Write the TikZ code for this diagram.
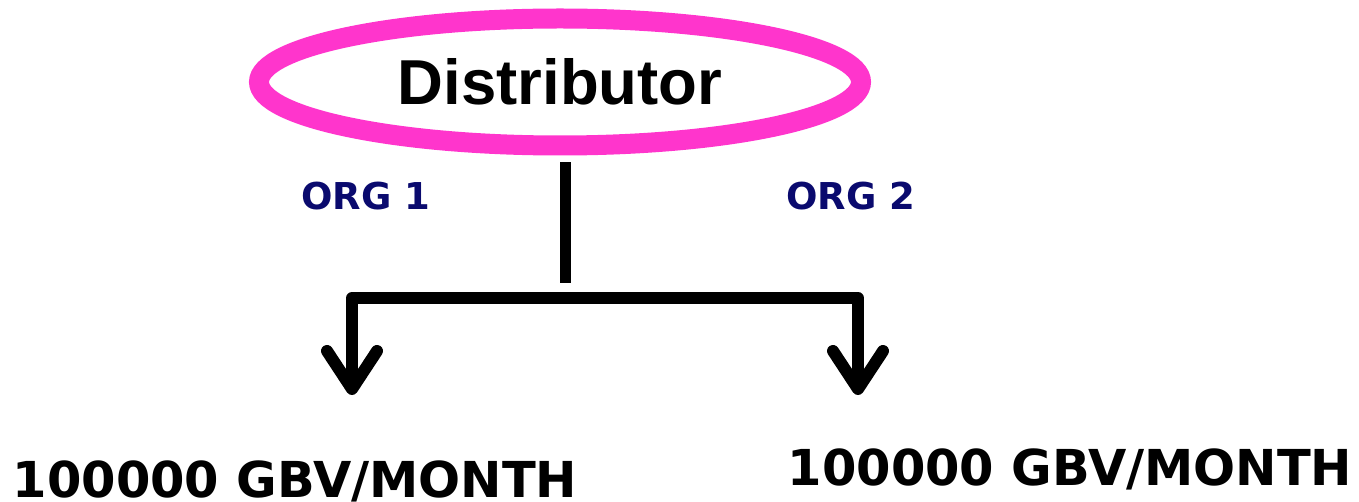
\documentclass[tikz,border=0pt]{standalone}
\usepackage{fontspec}
\setmainfont{DejaVu Sans}
\newfontfamily\headfont{Liberation Sans}
\usetikzlibrary{shapes.geometric,arrows.meta}
\definecolor{hubpink}{RGB}{255,53,204}
\definecolor{orgnavy}{RGB}{10,10,110}
\tikzset{
  x=1pt, y=-1pt,
  hub/.style={ellipse, draw=hubpink, line width=20pt, inner sep=0pt,
    minimum width=602pt, minimum height=127pt,
    font=\headfont\bfseries\fontsize{63.5}{70}\selectfont},
  orglabel/.style={text=orgnavy, inner sep=0pt,
    font=\bfseries\fontsize{37}{42}\selectfont},
  volume/.style={anchor=base, inner sep=0pt,
    font=\bfseries\fontsize{49.5}{56}\selectfont},
  stem/.style={line width=11pt},
  branch/.style={line width=12pt, line join=round,
    -{Straight Barb[length=38pt, width=50pt, round]}},
}
\begin{document}
\begin{tikzpicture}
\useasboundingbox (0,0) rectangle (1359,502);

% central distributor
\node[hub] (dist) at (560,82) {Distributor};

% organisation labels
\node[orglabel] (org1) at (366,196) {ORG 1};
\node[orglabel] (org2) at (851,196) {ORG 2};

% monthly volume per organisation
\node[volume] (vol1) at (295,497) {100000 GBV/MONTH};
\node[volume] (vol2) at (1070,485) {100000 GBV/MONTH};

% splitting connector
\coordinate (hubend) at (565,283);
\coordinate (jl) at (352,298);
\coordinate (jr) at (858,298);
\coordinate (tl) at (352,395);
\coordinate (tr) at (858,395);

\draw[stem] ([yshift=-7pt]dist.south -| hubend) -- (hubend);
\draw[branch] (jr) -- (jl) -- (tl);
\draw[branch] (jl) -- (jr) -- (tr);
\end{tikzpicture}
\end{document}
